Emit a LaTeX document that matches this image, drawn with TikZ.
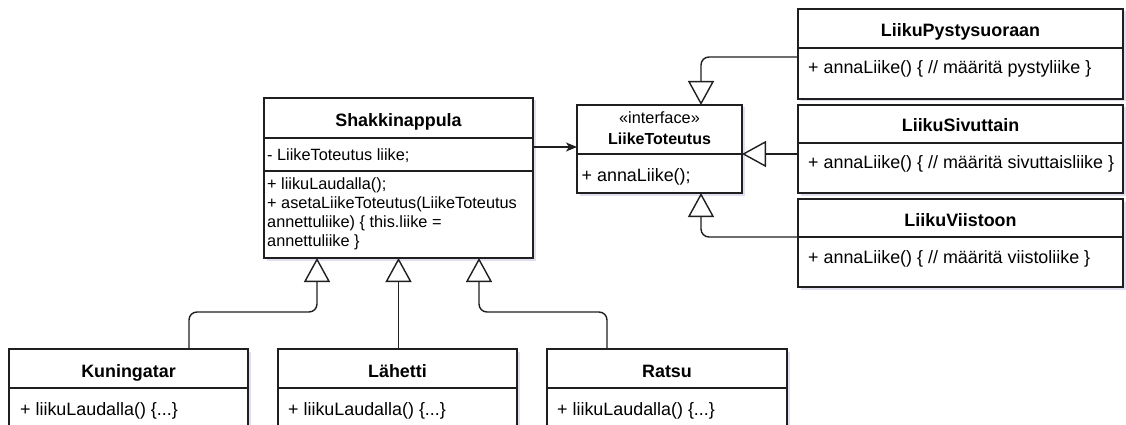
\documentclass[tikz,border=0pt]{standalone}
\usepackage{fontspec}
\setmainfont{Liberation Sans}
\usetikzlibrary{arrows.meta,shadows}

\begin{document}
\begin{tikzpicture}[x=1pt,y=-1pt,
  cls/.style={draw=black!88, line width=1.5pt, fill=white, anchor=north west,
    inner sep=0pt, outer sep=0pt,
    drop shadow={shadow xshift=2.5pt, shadow yshift=-2.5pt, opacity=0.18, fill=blue!35!gray}},
  sepline/.style={draw=black!88, line width=1.5pt},
  ttl/.style={font=\fontsize{17.9}{21}\selectfont\bfseries, anchor=base, inner sep=0pt},
  ifname/.style={font=\fontsize{16}{19}\selectfont\bfseries, anchor=base, inner sep=0pt},
  mem/.style={font=\fontsize{17.9}{21}\selectfont, anchor=base west, inner sep=0pt},
  memsmall/.style={font=\fontsize{16.3}{19}\selectfont, anchor=base west, inner sep=0pt},
  gen/.style={draw=black!88, line width=1.4pt, rounded corners=8pt,
    -{Triangle[open, length=24pt, width=26pt]}},
  assoc/.style={draw=black!88, line width=1.4pt,
    -{Stealth[length=11pt, width=9pt, inset=3pt]}}
]
\fill[white] (0,0) rectangle (1126,425);
\clip (0,0) rectangle (1126,425);

% ---- class boxes ----
\node[cls, minimum width=269pt, minimum height=160pt] (shak) at (264,98) {};
\node[cls, minimum width=165pt, minimum height=88pt]  (liike) at (577,105) {};
\node[cls, minimum width=325pt, minimum height=90pt]  (pys) at (798,9) {};
\node[cls, minimum width=325pt, minimum height=88pt]  (siv) at (798,105) {};
\node[cls, minimum width=325pt, minimum height=88pt]  (vii) at (798,199) {};
\node[cls, minimum width=239pt, minimum height=100pt] (kun) at (9,349) {};
\node[cls, minimum width=239pt, minimum height=100pt] (lah) at (278,349) {};
\node[cls, minimum width=240pt, minimum height=100pt] (rat) at (547,349) {};

% ---- compartment separators ----
\draw[sepline] (shak.west |- 0,138) -- (shak.east |- 0,138);
\draw[sepline] (shak.west |- 0,171) -- (shak.east |- 0,171);
\draw[sepline] (liike.west |- 0,154) -- (liike.east |- 0,154);
\draw[sepline] (pys.west |- 0,48) -- (pys.east |- 0,48);
\draw[sepline] (siv.west |- 0,143) -- (siv.east |- 0,143);
\draw[sepline] (vii.west |- 0,237) -- (vii.east |- 0,237);
\draw[sepline] (kun.west |- 0,388) -- (kun.east |- 0,388);
\draw[sepline] (lah.west |- 0,388) -- (lah.east |- 0,388);
\draw[sepline] (rat.west |- 0,388) -- (rat.east |- 0,388);

% ---- Shakkinappula ----
\node[ttl] at (398.5,126) {Shakkinappula};
\node[memsmall] at (267,160) {- LiikeToteutus liike;};
\node[memsmall] at (267,189.3) {+ liikuLaudalla();};
\node[memsmall] at (267,208.5) {+ asetaLiikeToteutus(LiikeToteutus};
\node[memsmall] at (267,227.5) {annettuliike) \{ this.liike =};
\node[memsmall] at (267,246.5) {annettuliike \}};

% ---- LiikeToteutus interface ----
\node[memsmall, anchor=base] at (659.5,123.3) {«interface»};
\node[ifname] at (659.5,144.3) {LiikeToteutus};
\node[mem] at (581.5,181) {+ annaLiike();};

% ---- movement strategies ----
\node[ttl] at (960.5,36.7) {LiikuPystysuoraan};
\node[mem] at (808,74) {+ annaLiike() \{ // määritä pystyliike \}};
\node[ttl] at (960.5,131.7) {LiikuSivuttain};
\node[mem] at (808,168.3) {+ annaLiike() \{ // määritä sivuttaisliike \}};
\node[ttl] at (960.5,226.7) {LiikuViistoon};
\node[mem] at (808,263.3) {+ annaLiike() \{ // määritä viistoliike \}};

% ---- pieces ----
\node[ttl] at (128.5,377.7) {Kuningatar};
\node[mem] at (20,415.7) {+ liikuLaudalla() \{...\}};
\node[ttl] at (397.5,377.7) {Lähetti};
\node[mem] at (288,415.7) {+ liikuLaudalla() \{...\}};
\node[ttl] at (667,377.7) {Ratsu};
\node[mem] at (557,415.7) {+ liikuLaudalla() \{...\}};

% ---- connectors ----
\draw[assoc] (shak.east |- 0,147) -- (liike.west |- 0,147);
\draw[gen] (pys.west |- 0,57) -| (liike.north -| 701,0);
\draw[gen] (siv.west |- 0,154) -- (liike.east |- 0,154);
\draw[gen] (vii.west |- 0,237) -| (liike.south -| 701,0);
\draw[gen] (kun.north -| 189,0) -- ++(0,-37) -| (shak.south -| 317,0);
\draw[gen] (lah.north -| shak.south) -- (shak.south);
\draw[gen] (rat.north -| 607,0) -- ++(0,-37) -| (shak.south -| 479,0);
\end{tikzpicture}
\end{document}
